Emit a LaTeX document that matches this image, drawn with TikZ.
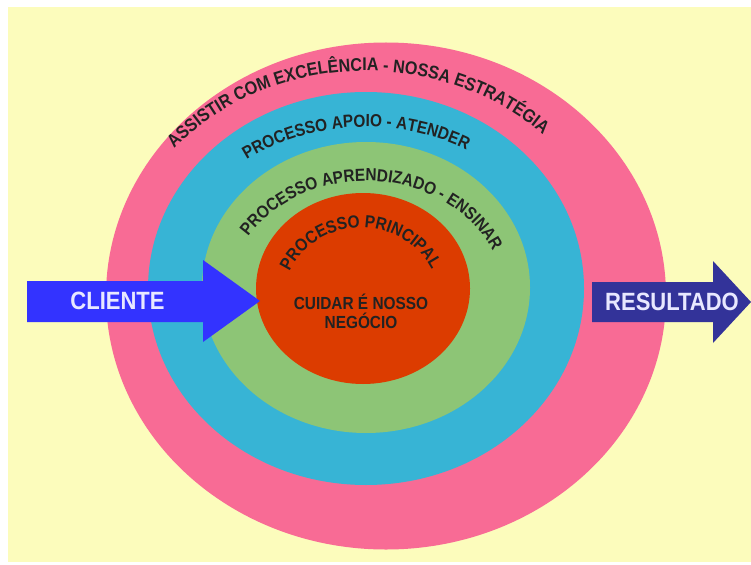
\documentclass[tikz,border=0pt]{standalone}
\usepackage{fontspec}
\usetikzlibrary{decorations.text}
% condensed bold sans used for every label
\newfontfamily\condsans{Liberation Sans}[FakeStretch=0.88]
\newcommand{\arcfont}{\condsans\bfseries\fontsize{17.5}{17.5}\selectfont}
\newcommand{\outerarcfont}{\condsans\bfseries\fontsize{18.3}{18.3}\selectfont}
\definecolor{paper}{HTML}{FCFCBC}
\definecolor{ringpink}{HTML}{F86B95}
\definecolor{ringblue}{HTML}{37B4D5}
\definecolor{ringgreen}{HTML}{8DC576}
\definecolor{ringred}{HTML}{DC3C00}
\definecolor{inarrow}{HTML}{3333FF}
\definecolor{outarrow}{HTML}{333399}
\definecolor{ink}{HTML}{222222}
\definecolor{lighttext}{HTML}{E8E8FF}
\tikzset{
  ring/.style={fill=#1},
  arctext/.style={decorate, decoration={text along path, text align=center,
      text color=ink, text={|\arcfont|#1}}},
  outerarctext/.style={decorate, decoration={text along path, text align=center,
      text color=ink, text={|\outerarcfont|#1}}},
  arrowtext/.style={inner sep=0pt, text=lighttext,
      font=\condsans\bfseries\fontsize{25}{25}\selectfont},
  centertext/.style={inner sep=0pt, text=ink, align=center,
      font=\condsans\bfseries\fontsize{17.5}{19}\selectfont}
}
\begin{document}
\begin{tikzpicture}[x=1pt,y=1pt]
  \useasboundingbox (0,0) rectangle (751,-564);
  \fill[white] (0,0) rectangle (751,-564);
  \fill[paper] (8,-7) rectangle (751,-562);

  % concentric rings
  \coordinate (cpink) at (386,-296);
  \coordinate (cblue) at (366,-288.5);
  \coordinate (cgreen) at (366,-287.5);
  \coordinate (cred) at (363,-288.5);
  \fill[ring=ringpink] (cpink) ellipse[x radius=280pt, y radius=253.5pt];
  \fill[ring=ringblue] (cblue) ellipse[x radius=218pt, y radius=196.5pt];
  \fill[ring=ringgreen] (cgreen) ellipse[x radius=164pt, y radius=145.5pt];
  \fill[ring=ringred] (cred) ellipse[x radius=107pt, y radius=95.5pt];

  % curved titles of the rings
  \path[outerarctext={ASSISTIR COM EXCELÊNCIA - NOSSA ESTRATÉGIA}]
    ([shift={(172.5:256pt and 229pt)}]366,-300)
    arc[start angle=172.5, end angle=12.5, x radius=256pt, y radius=229pt];
  \path[arctext={PROCESSO APOIO - ATENDER}]
    ([shift={(173.5:203pt and 173pt)}]366,-300)
    arc[start angle=173.5, end angle=13.5, x radius=203pt, y radius=173pt];
  \path[arctext={PROCESSO APRENDIZADO - ENSINAR}]
    ([shift={(175.8:139pt and 119pt)}]366,-300)
    arc[start angle=175.8, end angle=-4.2, x radius=139pt, y radius=119pt];
  \path[arctext={PROCESSO PRINCIPAL}]
    ([shift={(178.7:78pt and 72pt)}]361,-300)
    arc[start angle=178.7, end angle=2.7, x radius=78pt, y radius=72pt];

  \node[centertext] (lema) at (361,-311) {CUIDAR É NOSSO\\NEGÓCIO};

  % input and output arrows
  \fill[inarrow] (27,-281) -- (203,-281) -- (203,-260) -- (260,-301)
    -- (203,-342) -- (203,-322) -- (27,-322) -- cycle;
  \node[arrowtext] (cliente) at (117.5,-301) {CLIENTE};
  \fill[outarrow] (592,-282) -- (713,-282) -- (713,-261) -- (751,-302)
    -- (713,-343) -- (713,-322) -- (592,-322) -- cycle;
  \node[arrowtext] (resultado) at (672,-302) {RESULTADO};
\end{tikzpicture}
\end{document}
